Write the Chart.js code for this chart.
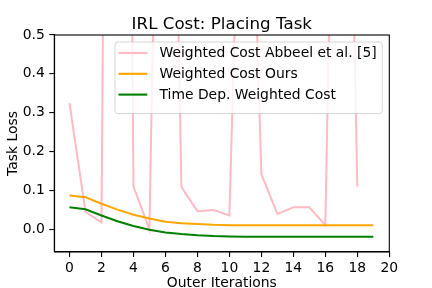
<!DOCTYPE html>
<html>
<head>
<meta charset="utf-8">
<script src="https://cdn.jsdelivr.net/npm/chart.js@4"></script>
<style>
html,body{margin:0;padding:0;background:#fff;}
canvas{display:block;}
</style>
</head>
<body>
<canvas id="c" width="432" height="288"></canvas>
<script>
const chartTitle = "IRL Cost: Placing Task";
const xAxisTitle = "Outer Iterations";
const yAxisTitle = "Task Loss";
const seriesLabels = ["Weighted Cost Abbeel et al. [5]", "Weighted Cost Ours", "Time Dep. Weighted Cost"];
const iterations = [0,1,2,3,4,5,6,7,8,9,10,11,12,13,14,15,16,17,18,19];
const abbeelCost = [0.325, 0.045, 0.018, 5.5, 0.11, 0.0, 2.3, 0.109, 0.047, 0.05, 0.036, 1.5, 0.142, 0.04, 0.057, 0.057, 0.011, 2.2, 0.11];
const oursCost = [0.087, 0.083, 0.066, 0.051, 0.038, 0.028, 0.020, 0.016, 0.014, 0.012, 0.011, 0.011, 0.011, 0.011, 0.011, 0.011, 0.011, 0.011, 0.011, 0.011];
const timeDepCost = [0.057, 0.052, 0.036, 0.021, 0.009, -0.001, -0.008, -0.012, -0.015, -0.017, -0.018, -0.019, -0.019, -0.019, -0.019, -0.019, -0.019, -0.019, -0.019, -0.019];
const xTicks = [0,2,4,6,8,10,12,14,16,18,20];
const yTicks = [0.0,0.1,0.2,0.3,0.4,0.5];
const seriesColors = ["#ffbac4", "#ffa500", "#008000"];

const FONT = "'DejaVu Sans', sans-serif";
const FS = 13.9;

function pts(ys){ return ys.map((y,i)=>({x: iterations[i], y: y})); }

const framePlugin = {
  id: 'frameTitleLegend',
  afterDraw(chart){
    const ctx = chart.ctx, a = chart.chartArea;
    ctx.save();
    // frame
    ctx.strokeStyle = '#000';
    ctx.lineWidth = 1.1;
    ctx.strokeRect(a.left, a.top, a.right - a.left, a.bottom - a.top);
    // title
    ctx.fillStyle = '#000';
    ctx.font = "16.7px " + FONT;
    ctx.textAlign = 'center';
    ctx.textBaseline = 'alphabetic';
    ctx.fillText(chartTitle, (a.left + a.right)/2, a.top - 6);
    // legend
    ctx.font = FS + "px " + FONT;
    const ds = chart.data.datasets;
    let maxW = 0;
    ds.forEach(d => { maxW = Math.max(maxW, ctx.measureText(d.label).width); });
    const pad = 0.4*FS, hl = 2*FS, htp = 0.8*FS, rowH = 20.8;
    const w = pad + hl + htp + maxW + pad;
    const h = pad*2 + rowH*ds.length - 0.5*FS + 5;
    const right = a.right - 7, top = a.top + 7;
    const left = right - w;
    ctx.beginPath();
    const r = 3;
    ctx.moveTo(left + r, top);
    ctx.arcTo(right, top, right, top + h, r);
    ctx.arcTo(right, top + h, left, top + h, r);
    ctx.arcTo(left, top + h, left, top, r);
    ctx.arcTo(left, top, right, top, r);
    ctx.closePath();
    ctx.fillStyle = 'rgba(255,255,255,0.8)';
    ctx.fill();
    ctx.strokeStyle = 'rgba(204,204,204,0.8)';
    ctx.lineWidth = 1;
    ctx.stroke();
    ds.forEach((d, i) => {
      const y = top + 11 + i*rowH;
      ctx.strokeStyle = d.borderColor;
      ctx.lineWidth = 2.1;
      ctx.beginPath();
      ctx.moveTo(left + 3.5, y);
      ctx.lineTo(left + 3.5 + hl + 1, y);
      ctx.stroke();
      ctx.fillStyle = '#000';
      ctx.textAlign = 'left';
      ctx.textBaseline = 'middle';
      ctx.fillText(d.label, left + pad + hl + htp, y + 0.5);
    });
    ctx.restore();
  }
};

new Chart(document.getElementById('c'), {
  type: 'line',
  data: {
    datasets: [
      {label: seriesLabels[0], data: pts(abbeelCost), borderColor: seriesColors[0], borderWidth: 2, pointRadius: 0, fill: false, tension: 0, order: 3},
      {label: seriesLabels[1], data: pts(oursCost), borderColor: seriesColors[1], borderWidth: 2, pointRadius: 0, fill: false, tension: 0, order: 2},
      {label: seriesLabels[2], data: pts(timeDepCost), borderColor: seriesColors[2], borderWidth: 2, pointRadius: 0, fill: false, tension: 0, order: 1}
    ]
  },
  options: {
    responsive: false,
    animation: false,
    devicePixelRatio: 1,
    layout: {padding: {left: 0, right: 42.7, top: 35, bottom: 0}},
    plugins: {legend: {display: false}, tooltip: {enabled: false}, title: {display: false}},
    scales: {
      x: {
        type: 'linear', min: -0.95, max: 20,
        afterFit(s){ s.height = 36; },
        afterBuildTicks(s){ s.ticks = xTicks.map(v => ({value: v})); },
        grid: {drawOnChartArea: false, drawTicks: true, tickLength: 5, color: '#000', lineWidth: 1.1},
        border: {display: true, color: '#000', width: 1.1},
        ticks: {color: '#000', font: {family: FONT, size: FS}, padding: 3.5, maxRotation: 0, autoSkip: false,
                callback: v => String(v)},
        title: {display: true, text: xAxisTitle, color: '#000', font: {family: FONT, size: FS, lineHeight: 0.7}, padding: {top: 0, bottom: 0}}
      },
      y: {
        type: 'linear', min: -0.058, max: 0.5,
        afterFit(s){ s.width = 54.3; },
        afterBuildTicks(s){ s.ticks = yTicks.map(v => ({value: v})); },
        grid: {drawOnChartArea: false, drawTicks: true, tickLength: 5, color: '#000', lineWidth: 1.1},
        border: {display: true, color: '#000', width: 1.1},
        ticks: {color: '#000', font: {family: FONT, size: FS}, padding: 4.5, autoSkip: false,
                callback: v => v.toFixed(1)},
        title: {display: true, text: yAxisTitle, color: '#000', font: {family: FONT, size: FS, lineHeight: 1}, padding: {top: 6, bottom: 0}}
      }
    }
  },
  plugins: [framePlugin]
});
</script>
</body>
</html>
